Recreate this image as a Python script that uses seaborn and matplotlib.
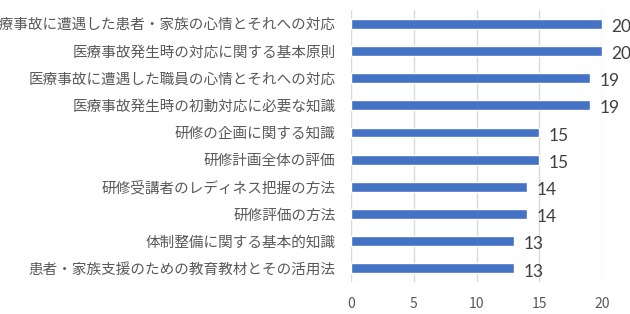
# Horizontal bar chart of training topics

import matplotlib
matplotlib.use('Agg')
import matplotlib.pyplot as plt
import seaborn as sns
import pandas as pd

sns.set_style('white')
plt.rcParams['font.family'] = ['Noto Sans CJK JP', 'DejaVu Sans']

topics = ['医療事故に遭遇した患者・家族の心情とそれへの対応',
          '医療事故発生時の対応に関する基本原則',
          '医療事故に遭遇した職員の心情とそれへの対応',
          '医療事故発生時の初動対応に必要な知識',
          '研修の企画に関する知識',
          '研修計画全体の評価',
          '研修受講者のレディネス把握の方法',
          '研修評価の方法',
          '体制整備に関する基本的知識',
          '患者・家族支援のための教育教材とその活用法']
counts = [20, 20, 19, 19, 15, 15, 14, 14, 13, 13]

df = pd.DataFrame({'topic': topics, 'count': counts})

fig = plt.figure(figsize=(6.3, 3.14), dpi=100)
ax = fig.add_axes([0.557, 0.102, 0.399, 0.866])

sns.barplot(data=df, x='count', y='topic', ax=ax, color='#4472C4',
            saturation=1, width=0.36, orient='h')

ax.set_xlim(0, 20)
ax.set_xticks([0, 5, 10, 15, 20])
ax.set_xlabel('')
ax.set_ylabel('')
ax.grid(axis='x', color='#D9D9D9', linewidth=1)
ax.set_axisbelow(True)
for s in ax.spines.values():
    s.set_visible(False)
ax.tick_params(axis='both', length=0, colors='#595959')
ax.tick_params(axis='x', pad=11, labelsize=10)
ax.tick_params(axis='y', pad=11, labelsize=10.5)

for i, v in enumerate(counts):
    ax.text(v + 0.75, i + 0.12, str(v), va='center', ha='left',
            fontsize=12.5, color='#404040', clip_on=False,
            family=['Lato', 'DejaVu Sans'])

plt.savefig('out.png', dpi=100)
